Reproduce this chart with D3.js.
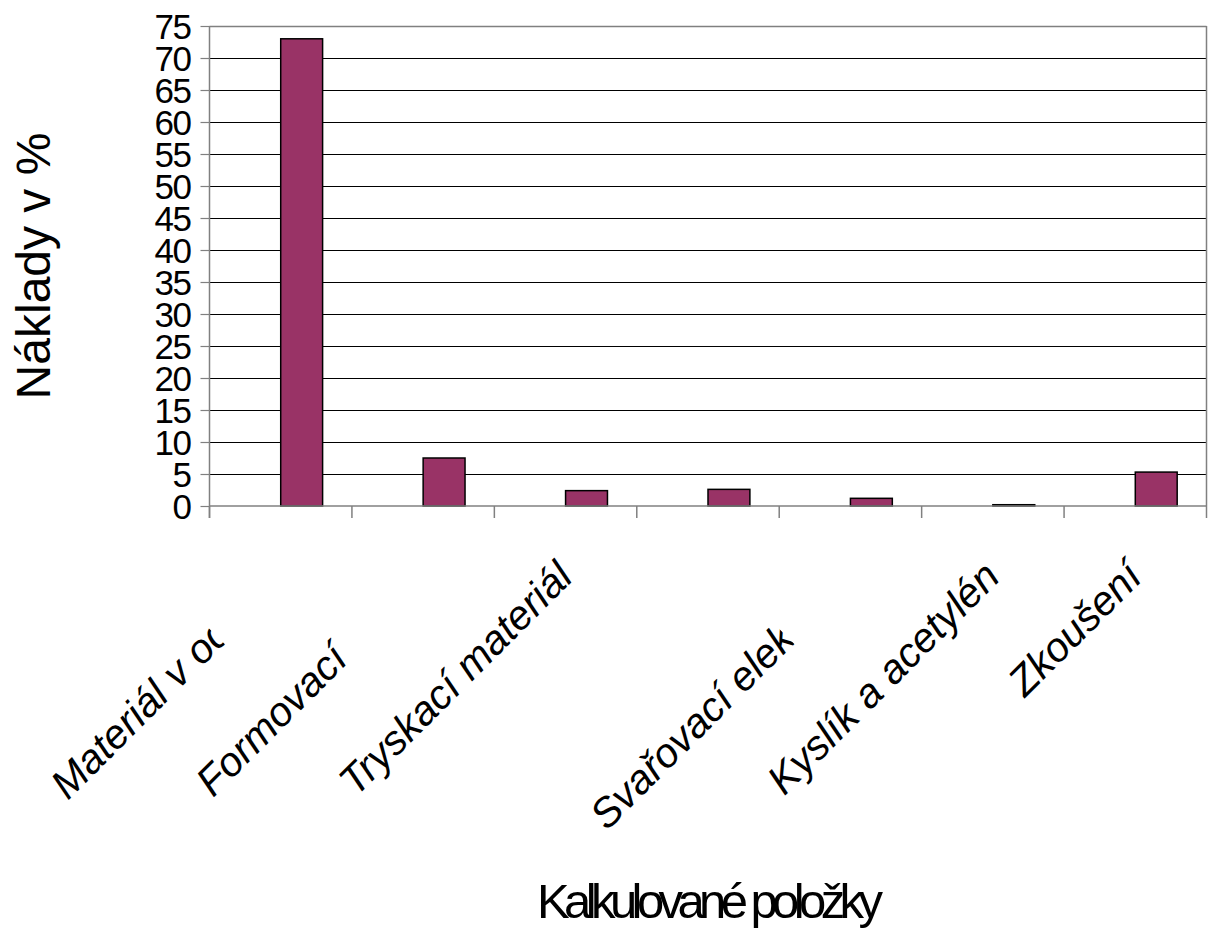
<!DOCTYPE html>
<html>
<head>
<meta charset="utf-8">
<script src="https://cdn.jsdelivr.net/npm/d3@7"></script>
<style>
  html, body { margin: 0; padding: 0; background: #fff; }
  svg { display: block; font-family: "Liberation Sans", Arial, sans-serif; }
</style>
</head>
<body>
<svg id="chart" width="1208" height="933"></svg>
<script>
// ---------- data ----------
const categories = ["Materiál v od", "Formovací", "Tryskací materiál", "", "Svařovací elekt", "Kyslík a acetylén", "Zkoušení"];
const values = [73, 7.5, 2.4, 2.6, 1.2, 0.2, 5.3];
const yTicks = [0, 5, 10, 15, 20, 25, 30, 35, 40, 45, 50, 55, 60, 65, 70, 75];
const seriesSlots = ["empty", "costs"];
const yTitle = "Náklady v %";
const xTitle = "Kalkulované položky";

// ---------- layout ----------
const labelClipped = [true, true, false, false, true, false, false];
const labelStart = [314, 310, 0, 0, 357, 0, 0];

const svg = d3.select("#chart");
const plotLeft = 209.5, plotRight = 1206.5, plotTop = 26, plotBottom = 506;

const x0 = d3.scaleBand().domain(d3.range(categories.length)).range([plotLeft, plotRight]).paddingInner(0).paddingOuter(0);
const bw = x0.bandwidth();
const x1 = d3.scaleBand().domain(seriesSlots).range([bw * 0.7 / 3.4, bw * 2.7 / 3.4]).paddingInner(0).paddingOuter(0);
const y = d3.scaleLinear().domain([0, 75]).range([plotBottom, plotTop]);

// gridlines
svg.append("g").selectAll("line")
  .data(yTicks.filter(t => t > 0 && t < 75))
  .join("line")
  .attr("x1", plotLeft).attr("x2", plotRight)
  .attr("y1", d => Math.round(y(d)) + 0.5).attr("y2", d => Math.round(y(d)) + 0.5)
  .attr("stroke", "#000").attr("stroke-width", 1);

// plot border top/right (grey)
svg.append("line").attr("x1", plotLeft).attr("x2", plotRight).attr("y1", plotTop + 0.5).attr("y2", plotTop + 0.5)
  .attr("stroke", "#808080").attr("stroke-width", 1.5);
svg.append("line").attr("x1", plotRight).attr("x2", plotRight).attr("y1", plotTop).attr("y2", plotBottom)
  .attr("stroke", "#808080").attr("stroke-width", 1.5);

// bars
svg.append("g").selectAll("rect")
  .data(values)
  .join("rect")
  .attr("x", (d, i) => x0(i) + x1("costs"))
  .attr("width", x1.bandwidth())
  .attr("y", d => y(d))
  .attr("height", d => y(0) - y(d))
  .attr("fill", "#993366")
  .attr("stroke", "#000")
  .attr("stroke-width", 1.5);

// y axis
const yAxis = d3.axisLeft(y).tickValues(yTicks).tickSize(9).tickSizeOuter(0).tickPadding(12);
const gy = svg.append("g").attr("transform", `translate(${plotLeft},0)`).call(yAxis);
gy.select(".domain").attr("stroke", "#808080").attr("stroke-width", 1.5)
  .attr("d", `M0,${plotTop}V${plotBottom + 12}`);
gy.selectAll(".tick line").attr("stroke", "#808080").attr("stroke-width", 1.2);
gy.selectAll(".tick text")
  .attr("font-size", 35).attr("fill", "#000")
  .attr("font-family", "'Liberation Sans', Arial, sans-serif")
  .attr("letter-spacing", -1.5)
  .attr("dy", "0.36em")
  .attr("x", -19);

// x axis line and category boundary ticks
svg.append("line").attr("x1", plotLeft).attr("x2", plotRight).attr("y1", plotBottom).attr("y2", plotBottom)
  .attr("stroke", "#808080").attr("stroke-width", 1.5);
const boundaries = x0.domain().map(i => x0(i)).concat([plotRight]);
svg.append("g").selectAll("line")
  .data(boundaries)
  .join("line")
  .attr("x1", d => d).attr("x2", d => d)
  .attr("y1", plotBottom).attr("y2", plotBottom + 12)
  .attr("stroke", "#808080").attr("stroke-width", 1.5);

// category labels (rotated -45, italic)
const defs = svg.append("defs");
defs.append("clipPath").attr("id", "labelClip").attr("clipPathUnits", "userSpaceOnUse")
  .append("rect").attr("x", -500).attr("y", -60).attr("width", 500 - 92).attr("height", 100);

const lg = svg.append("g").selectAll("g")
  .data(categories)
  .join("g")
  .attr("transform", (d, i) => `translate(${x0(i) + bw / 2 + 9},579) rotate(-45)`);
lg.append("text")
  .attr("font-size", 41)
  .attr("font-style", "italic")
  .attr("fill", "#000")
  .attr("text-anchor", (d, i) => labelClipped[i] ? "start" : "end")
  .attr("x", (d, i) => labelClipped[i] ? -labelStart[i] : 0)
  .attr("clip-path", (d, i) => labelClipped[i] ? "url(#labelClip)" : null)
  .text(d => d);

// axis titles
svg.append("text")
  .attr("transform", `translate(50,${(plotTop + plotBottom) / 2}) rotate(-90)`)
  .attr("text-anchor", "middle")
  .attr("font-size", 48)
  .attr("fill", "#000")
  .text(yTitle);

svg.append("text")
  .attr("x", (plotLeft + plotRight) / 2 + 2)
  .attr("y", 918)
  .attr("text-anchor", "middle")
  .attr("font-size", 49)
  .attr("fill", "#000")
  .attr("textLength", 346)
  .attr("lengthAdjust", "spacing")
  .text(xTitle);
</script>
</body>
</html>
